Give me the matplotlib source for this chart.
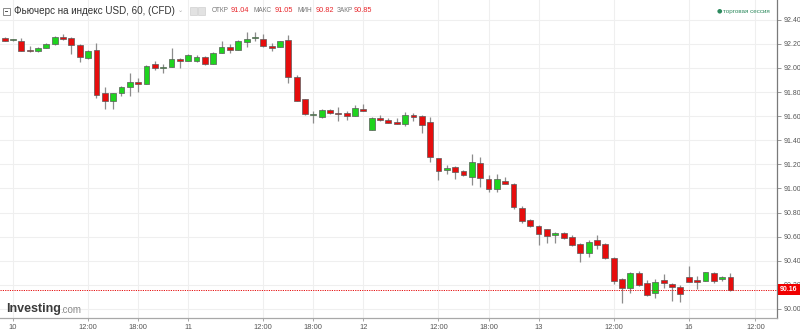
import matplotlib
matplotlib.use("Agg")
import matplotlib.pyplot as plt
import matplotlib.transforms as mtransforms
from matplotlib.patches import Rectangle

plt.rcParams['font.family'] = ['Liberation Sans', 'DejaVu Sans']

# ---------------- data (hourly candles) ----------------
opens = [92.252, 92.230, 92.221, 92.152, 92.138, 92.169, 92.197, 92.260, 92.249, 92.191,
         92.086, 92.150, 91.793, 91.726, 91.790, 91.840, 91.881, 91.867, 92.031, 92.000,
         92.008, 92.075, 92.061, 92.061, 92.092, 92.033, 92.127, 92.172, 92.150, 92.213,
         92.246, 92.238, 92.180, 92.177, 92.232, 91.923, 91.743, 91.607, 91.596, 91.649,
         91.629, 91.629, 91.604, 91.660, 91.489, 91.588, 91.569, 91.550, 91.533, 91.610,
         91.601, 91.550, 91.251, 91.152, 91.181, 91.144, 91.094, 91.211, 91.076, 90.995,
         91.065, 91.037, 90.835, 90.738, 90.688, 90.661, 90.611, 90.630, 90.600, 90.539,
         90.467, 90.572, 90.540, 90.426, 90.249, 90.177, 90.296, 90.219, 90.131, 90.238,
         90.208, 90.186, 90.266, 90.238, 90.236, 90.296, 90.247, 90.266]
highs = [92.257, 92.244, 92.246, 92.180, 92.174, 92.205, 92.266, 92.280, 92.257, 92.197,
         92.147, 92.210, 91.843, 91.795, 91.851, 91.961, 91.914, 92.025, 92.061, 92.034,
         92.163, 92.086, 92.116, 92.111, 92.103, 92.136, 92.224, 92.199, 92.232, 92.302,
         92.302, 92.280, 92.208, 92.227, 92.274, 91.942, 91.745, 91.646, 91.657, 91.660,
         91.679, 91.640, 91.690, 91.699, 91.592, 91.610, 91.588, 91.588, 91.632, 91.624,
         91.610, 91.596, 91.256, 91.198, 91.186, 91.154, 91.284, 91.258, 91.109, 91.120,
         91.092, 91.048, 90.857, 90.749, 90.694, 90.666, 90.639, 90.639, 90.614, 90.550,
         90.572, 90.614, 90.550, 90.435, 90.255, 90.310, 90.319, 90.241, 90.247, 90.291,
         90.219, 90.200, 90.357, 90.277, 90.310, 90.305, 90.274, 90.296]
lows = [92.224, 92.227, 92.138, 92.136, 92.136, 92.166, 92.191, 92.235, 92.114, 92.053,
        92.072, 91.754, 91.660, 91.660, 91.771, 91.765, 91.804, 91.865, 91.987, 91.961,
        92.005, 92.003, 92.058, 92.047, 92.025, 92.030, 92.122, 92.125, 92.148, 92.174,
        92.224, 92.178, 92.144, 92.172, 91.873, 91.725, 91.610, 91.541, 91.582, 91.620,
        91.560, 91.571, 91.602, 91.643, 91.485, 91.560, 91.544, 91.533, 91.522, 91.560,
        91.464, 91.220, 91.071, 91.118, 91.079, 91.100, 91.031, 91.009, 90.971, 90.973,
        91.034, 90.827, 90.716, 90.683, 90.534, 90.545, 90.545, 90.581, 90.525, 90.393,
        90.434, 90.498, 90.413, 90.205, 90.053, 90.136, 90.190, 90.108, 90.089, 90.172,
        90.070, 90.061, 90.222, 90.169, 90.233, 90.219, 90.233, 90.152]
closes = [92.227, 92.241, 92.141, 92.138, 92.169, 92.199, 92.257, 92.238, 92.188, 92.089,
          92.141, 91.776, 91.726, 91.790, 91.840, 91.881, 91.867, 92.020, 91.998, 92.011,
          92.072, 92.061, 92.111, 92.092, 92.036, 92.127, 92.172, 92.150, 92.224, 92.238,
          92.257, 92.180, 92.166, 92.224, 91.928, 91.729, 91.616, 91.618, 91.649, 91.624,
          91.616, 91.604, 91.668, 91.646, 91.588, 91.566, 91.547, 91.536, 91.610, 91.596,
          91.527, 91.259, 91.148, 91.172, 91.140, 91.112, 91.222, 91.084, 90.995, 91.076,
          91.037, 90.843, 90.727, 90.688, 90.619, 90.608, 90.630, 90.589, 90.531, 90.467,
          90.559, 90.531, 90.425, 90.236, 90.177, 90.299, 90.197, 90.117, 90.227, 90.216,
          90.186, 90.128, 90.225, 90.225, 90.307, 90.233, 90.269, 90.160]

x_tick_pos = [1, 10, 16, 22, 31, 37, 43, 52, 58, 64, 73, 82, 90]
x_tick_labels = ['10', '12:00', '18:00', '11', '12:00', '18:00', '12', '12:00', '18:00',
                 '13', '12:00', '16', '12:00']
y_ticks = [90.00, 90.20, 90.40, 90.60, 90.80, 91.00, 91.20, 91.40, 91.60, 91.80, 92.00, 92.20, 92.40]

title = 'Фьючерс на индекс USD, 60, (CFD)'
ohlc_names = ['ОТКР', 'МАКС', 'МИН', 'ЗАКР']
ohlc_vals = ['91.04', '91.05', '90.82', '90.85']

# ---------------- figure ----------------
fig = plt.figure(figsize=(8.0, 3.32), dpi=100)
fig.patch.set_facecolor('white')
ax = fig.add_axes([0.0, 14 / 332, 777 / 800, 1 - 14 / 332])
ax.set_facecolor('white')

GREEN = '#1ed41e'
RED = '#e60d0d'
EDGE = '#5a5a5a'
WICK = '#8c8c8c'
bw = 0.7

for i, (o, h, l, c) in enumerate(zip(opens, highs, lows, closes)):
    col = GREEN if c >= o else RED
    ax.vlines(i, l, h, color=WICK, linewidth=0.9, zorder=2)
    bottom = min(o, c)
    height = max(abs(c - o), 0.008)
    ax.add_patch(Rectangle((i - bw / 2, bottom), bw, height, facecolor=col,
                           edgecolor=EDGE, linewidth=0.5, zorder=3))

ax.set_xlim(-0.56, 92.58)
ax.set_ylim(89.925, 92.564)

# grid
for y in y_ticks:
    ax.axhline(y, color='#efefef', linewidth=0.8, zorder=0)
for x in x_tick_pos:
    ax.axvline(x, color='#efefef', linewidth=0.8, zorder=0)

# axes styling
for s in ['top', 'left']:
    ax.spines[s].set_visible(False)
ax.spines['right'].set_color('#7a7a7a')
ax.spines['right'].set_linewidth(0.9)
ax.spines['bottom'].set_color('#a8a8a8')
ax.spines['bottom'].set_linewidth(0.9)

ax.yaxis.tick_right()
ax.set_yticks(y_ticks)
ax.set_yticklabels(['%.2f' % v for v in y_ticks])
ax.tick_params(axis='y', direction='out', length=3, width=0.6, color='#888888',
               labelsize=5.0, labelcolor='#555555', pad=1.5)
ax.set_xticks(x_tick_pos)
ax.set_xticklabels(x_tick_labels)
ax.tick_params(axis='x', direction='out', length=2, width=0.6, color='#999999',
               labelsize=5.4, labelcolor='#555555', pad=2)

# last price line + label
last = closes[-1]
ax.axhline(last, color='#e60d0d', linewidth=0.7, linestyle=(0, (1.2, 1.2)), zorder=4)
blend = mtransforms.blended_transform_factory(fig.transFigure, ax.transData)
fig.text(789 / 800, last, '%.2f' % last, transform=blend, ha='center', va='center',
         fontsize=5.0, color='white', fontweight='bold',
         bbox=dict(boxstyle='square,pad=0.3', facecolor='#f00000', edgecolor='none'))

# header
fig.patches.append(Rectangle((3 / 800, 1 - 15 / 332), 7 / 800, 7 / 332, transform=fig.transFigure,
                             facecolor='white', edgecolor='#777777', linewidth=0.6))
fig.patches.append(Rectangle((4.8 / 800, 1 - 11.8 / 332), 3.4 / 800, 0.7 / 332,
                             transform=fig.transFigure, facecolor='#555555', edgecolor='none'))
fig.text(14 / 800, 1 - 11 / 332, title, ha='left', va='center', fontsize=7.1, color='#333333')
fig.text(178 / 800, 1 - 11 / 332, '⌄', ha='left', va='center', fontsize=4.5, color='#aaaaaa',
         family=['DejaVu Sans'])
for xx in [190, 198]:
    fig.patches.append(Rectangle((xx / 800, 1 - 14.5 / 332), 6.5 / 800, 7 / 332,
                                 transform=fig.transFigure, facecolor='#e2e2e2',
                                 edgecolor='#d0d0d0', linewidth=0.5))
name_x = [212, 254, 298, 337]
val_x = [231, 275, 316, 354]
for nx, vx, n, v in zip(name_x, val_x, ohlc_names, ohlc_vals):
    fig.text(nx / 800, 1 - 11 / 332, n, ha='left', va='center', fontsize=4.7, color='#777777')
    fig.text(vx / 800, 1 - 11 / 332, v, ha='left', va='center', fontsize=5.3, color='#e8262b')

fig.text(719 / 800, 1 - 11 / 332, '●', ha='center', va='center', fontsize=4.5, color='#2d8a5e',
         family=['DejaVu Sans'])
fig.text(723 / 800, 1 - 11 / 332, 'торговая сессия', ha='left', va='center', fontsize=4.5,
         color='#2d8a5e')

# logo
logo = fig.text(6 / 800, 1 - 309 / 332, 'Investing', ha='left', va='center', fontsize=9.0,
                fontweight='bold', color='#3c3c3c')
fig.canvas.draw()
bb = logo.get_window_extent(renderer=fig.canvas.get_renderer())
fig.text((bb.x1 - 1) / 800, 1 - 310 / 332, '.com', ha='left', va='center', fontsize=7,
         color='#8a8a8a')

fig.savefig('out.png', dpi=100, facecolor='white')
